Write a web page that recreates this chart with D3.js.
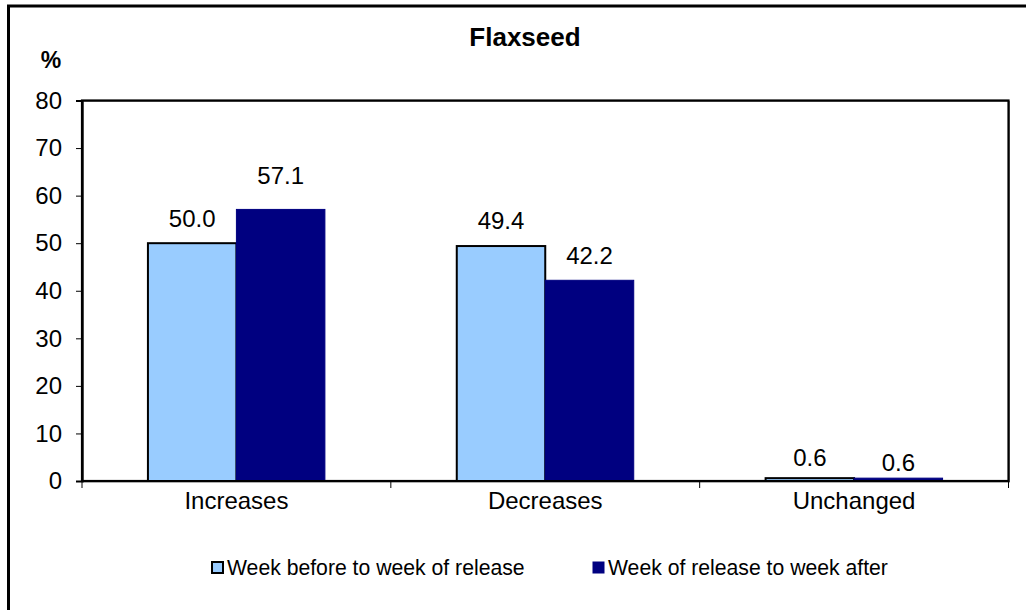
<!DOCTYPE html>
<html>
<head>
<meta charset="utf-8">
<script src="https://cdn.jsdelivr.net/npm/d3@7"></script>
<style>
  html, body { margin: 0; padding: 0; background: #fff; }
  svg { display: block; font-family: "Liberation Sans", Arial, sans-serif; }
</style>
</head>
<body>
<svg id="chart" width="1026" height="610"></svg>
<script>
// Chart data
const categories = ["Increases", "Decreases", "Unchanged"];
const seriesNames = ["Week before to week of release", "Week of release to week after"];
const beforeValues = [50.0, 49.4, 0.6];
const afterValues = [57.1, 42.2, 0.6];
const yTicks = [0, 10, 20, 30, 40, 50, 60, 70, 80];

// Styling
const colors = ["#99CCFF", "#000080"];
const strokes = ["#000000", "#000080"];
const labelLift = [[25, 34], [25, 25], [21, 16]];
const fontSize = 24;

const svg = d3.select("#chart");

// Outer chart frame (continues past the right and bottom edges)
svg.append("rect")
  .attr("x", 8.5).attr("y", 6)
  .attr("width", 1040).attr("height", 640)
  .attr("fill", "none").attr("stroke", "#000").attr("stroke-width", 3);

const plot = { left: 82, top: 100.5, right: 1008.5, bottom: 481 };

const y = d3.scaleLinear().domain([0, 80]).range([plot.bottom, plot.top]);
const x0 = d3.scaleBand().domain(categories).range([plot.left, plot.right]).padding(0);
const bw = x0.bandwidth();
const x1 = d3.scaleBand().domain([0, 1]).range([bw * 0.2135, bw * 0.7865]).padding(0);

// Plot area border with a faint shadow line
svg.append("rect")
  .attr("x", plot.left + 1).attr("y", plot.top + 1)
  .attr("width", plot.right - plot.left).attr("height", plot.bottom - plot.top)
  .attr("fill", "none").attr("stroke", "#888").attr("stroke-width", 1);
svg.append("rect")
  .attr("x", plot.left).attr("y", plot.top)
  .attr("width", plot.right - plot.left).attr("height", plot.bottom - plot.top)
  .attr("fill", "none").attr("stroke", "#000").attr("stroke-width", 2.2);

// Title
svg.append("text")
  .attr("x", 525).attr("y", 46)
  .attr("text-anchor", "middle")
  .attr("font-size", 26).attr("font-weight", "bold")
  .text("Flaxseed");

// Unit label
svg.append("text")
  .attr("x", 51).attr("y", 68)
  .attr("text-anchor", "middle")
  .attr("font-size", 23).attr("font-weight", "bold")
  .text("%");

// Y axis
const yAxis = d3.axisLeft(y).tickValues(yTicks).tickSize(6).tickPadding(14).tickFormat(d3.format("d"));
const gy = svg.append("g").attr("transform", `translate(${plot.left},0)`).call(yAxis);
gy.select(".domain").attr("stroke", "#000").attr("stroke-width", 2.2);
gy.selectAll(".tick line").attr("stroke", "#000").attr("stroke-width", 1);
gy.selectAll(".tick text").attr("font-size", fontSize).attr("fill", "#000")
  .attr("font-family", "'Liberation Sans', Arial, sans-serif");

// Bars
const rows = categories.map((c, i) => ({ cat: c, i, vals: [beforeValues[i], afterValues[i]] }));
const groups = svg.append("g").selectAll("g")
  .data(rows).join("g")
  .attr("transform", d => `translate(${x0(d.cat)},0)`);

groups.selectAll("rect")
  .data(d => d.vals.map((v, s) => ({ v, s, i: d.i })))
  .join("rect")
  .attr("x", d => x1(d.s))
  .attr("y", d => y(d.v))
  .attr("width", x1.bandwidth())
  .attr("height", d => y(0) - y(d.v))
  .attr("fill", d => colors[d.s])
  .attr("stroke", d => strokes[d.s])
  .attr("stroke-width", d => d.s === 0 ? 2 : 1);

// Value labels
groups.selectAll("text")
  .data(d => d.vals.map((v, s) => ({ v, s, i: d.i })))
  .join("text")
  .attr("x", d => x1(d.s) + x1.bandwidth() / 2)
  .attr("y", d => y(d.v) - labelLift[d.i][d.s])
  .attr("dy", "0.35em")
  .attr("text-anchor", "middle")
  .attr("font-size", fontSize)
  .text(d => d3.format(".1f")(d.v));

// X axis line and category ticks at band edges
svg.append("line")
  .attr("x1", plot.left).attr("x2", plot.right)
  .attr("y1", plot.bottom).attr("y2", plot.bottom)
  .attr("stroke", "#000").attr("stroke-width", 2.2);
const edges = categories.map(c => x0(c)).concat([plot.right]);
svg.append("g").selectAll("line").data(edges).join("line")
  .attr("x1", d => d).attr("x2", d => d)
  .attr("y1", plot.bottom).attr("y2", plot.bottom + 7)
  .attr("stroke", "#000").attr("stroke-width", 1);
svg.append("g").selectAll("text").data(categories).join("text")
  .attr("x", d => x0(d) + bw / 2)
  .attr("y", 509)
  .attr("text-anchor", "middle")
  .attr("font-size", fontSize)
  .text(d => d);

// Legend
const legendX = [211, 592];
const lg = svg.append("g").selectAll("g").data(seriesNames).join("g");
lg.append("rect")
  .attr("x", (d, i) => legendX[i] + 1)
  .attr("y", 562)
  .attr("width", 11)
  .attr("height", 11)
  .attr("fill", (d, i) => colors[i])
  .attr("stroke", (d, i) => strokes[i])
  .attr("stroke-width", (d, i) => i === 0 ? 2 : 1);
lg.append("text")
  .attr("x", (d, i) => legendX[i] + 16)
  .attr("y", 575)
  .attr("font-size", 21.2)
  .text(d => d);
</script>
</body>
</html>
